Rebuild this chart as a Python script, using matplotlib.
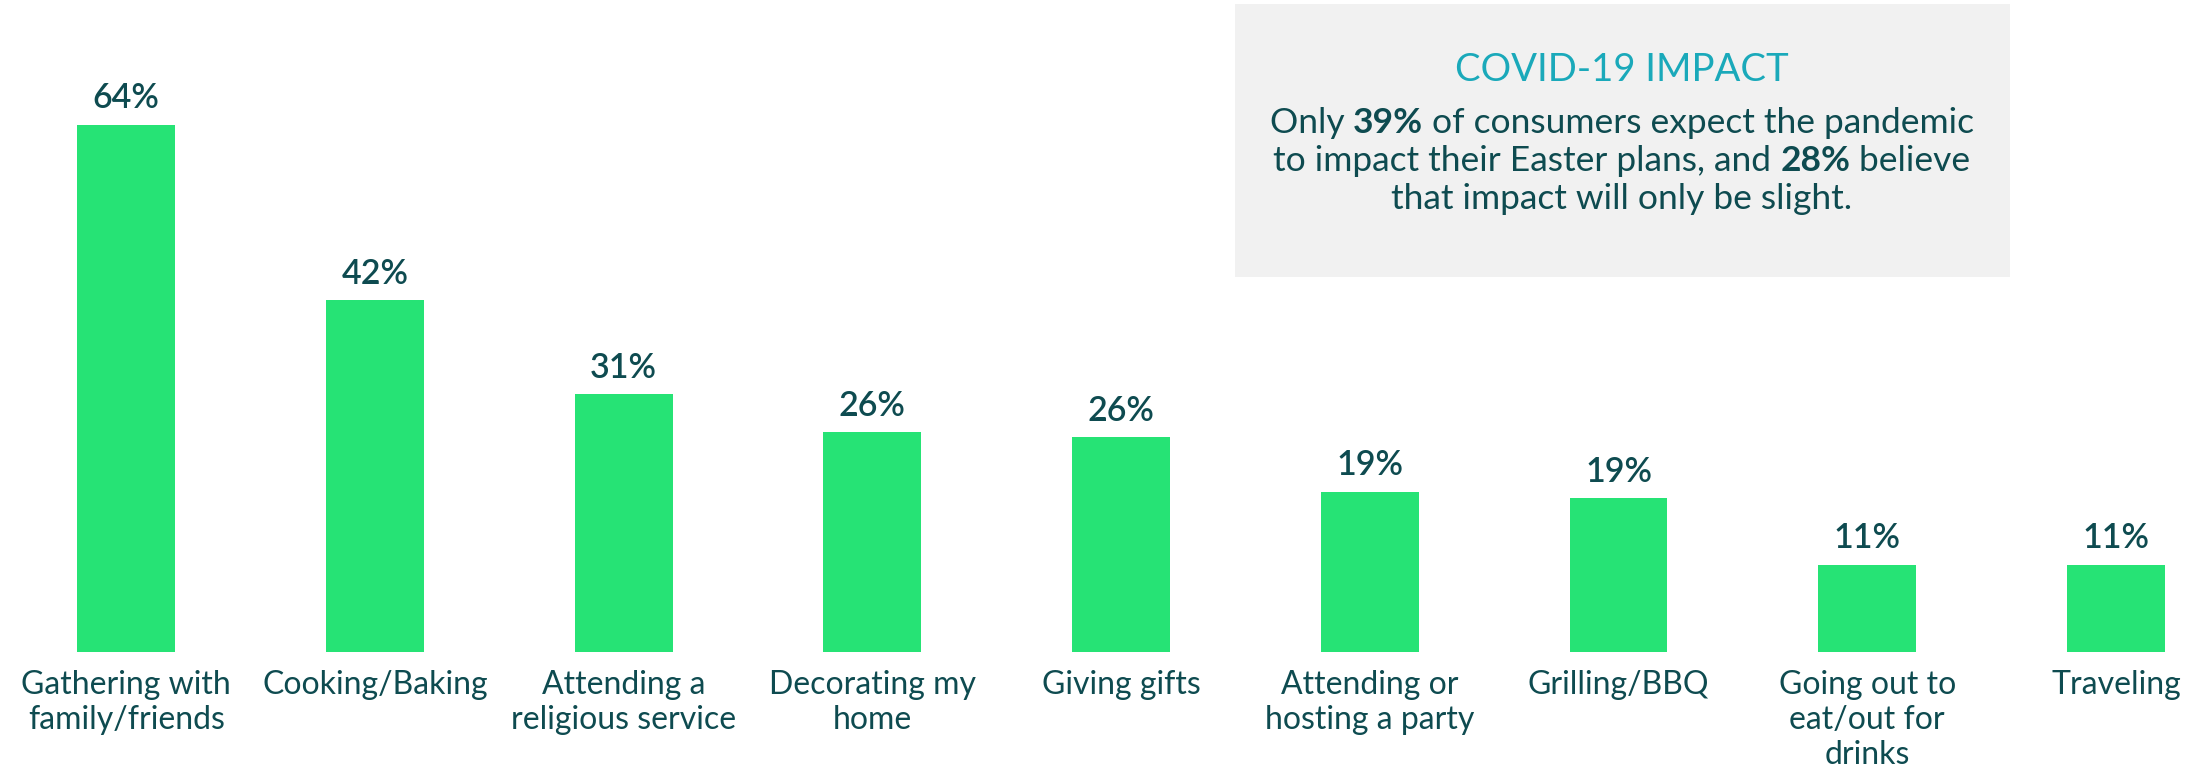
import matplotlib

matplotlib.use("Agg")

import matplotlib.pyplot as plt
from matplotlib.patches import Rectangle

categories = [
    "Gathering with\nfamily/friends",
    "Cooking/Baking",
    "Attending a\nreligious service",
    "Decorating my\nhome",
    "Giving gifts",
    "Attending or\nhosting a party",
    "Grilling/BBQ",
    "Going out to\neat/out for\ndrinks",
    "Traveling",
]
shares = [64.0, 42.7, 31.3, 26.7, 26.1, 19.5, 18.7, 10.6, 10.6]
share_labels = ["64%", "42%", "31%", "26%", "26%", "19%", "19%", "11%", "11%"]

box_title = "COVID-19 IMPACT"
box_lines = [
    [("Only ", "normal"), ("39%", "bold"), (" of consumers expect the pandemic", "normal")],
    [("to impact their Easter plans, and ", "normal"), ("28%", "bold"), (" believe", "normal")],
    [("that impact will only be slight.", "normal")],
]

BAR = "#26e375"
INK = "#0e4b50"
TEAL = "#1aa9ba"
FONT = "Lato"

W, H = 2201, 769
fig = plt.figure(figsize=(W / 100, H / 100), dpi=100)
ax = fig.add_axes([0, 116.7 / H, 1, 1 - 116.7 / H])
ax.patch.set_visible(False)

xs = list(range(len(categories)))
ax.bar(xs, shares, width=0.394, color=BAR)
for x, v, lab in zip(xs, shares, share_labels):
    ax.annotate(lab, (x, v), xytext=(0, 12), textcoords="offset points",
                ha="center", va="baseline", fontsize=24.5, color=INK,
                family=FONT, fontweight="semibold")

ax.set_xlim(-126.3 / 248.7, (W - 126.3) / 248.7)
ax.set_ylim(0, (H - 116.7) / 8.239)
ax.set_xticks(xs)
ax.set_xticklabels(categories, fontsize=23, color=INK, family=FONT,
                   linespacing=1.22, va="top")
ax.tick_params(axis="x", length=0, pad=12.5)
ax.set_yticks([])
for side in ax.spines.values():
    side.set_visible(False)

# callout box, laid out in figure pixels
fig.patches.append(Rectangle((1235 / W, 1 - 277 / H), 775 / W, 273 / H,
                             transform=fig.transFigure, facecolor="#f1f1f1",
                             edgecolor="none", zorder=1))
cx = 1622
fig.text(cx / W, 1 - 81 / H, box_title, ha="center", va="baseline", fontsize=27.5,
         color=TEAL, family=FONT, zorder=3)

renderer = fig.canvas.get_renderer()
for baseline, pieces in zip([133, 171, 209], box_lines):
    texts = [fig.text(0, 1 - baseline / H, s, ha="left", va="baseline", fontsize=25.5,
                      color=INK, family=FONT, fontweight=wt, zorder=3)
             for s, wt in pieces]
    widths = [t.get_window_extent(renderer).width for t in texts]
    left = cx - sum(widths) / 2
    for t, w in zip(texts, widths):
        t.set_x(left / W)
        left += w

fig.savefig("out.png", dpi=100)
